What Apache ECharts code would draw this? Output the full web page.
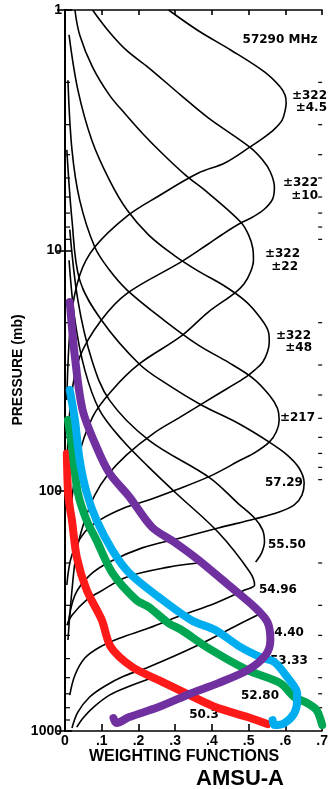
<!DOCTYPE html>
<html><head><meta charset="utf-8">
<script src="https://cdn.jsdelivr.net/npm/echarts@6/dist/echarts.min.js"></script>
<style>html,body{margin:0;padding:0;background:#fff}#c{width:331px;height:789px}</style>
</head><body><div id="c"></div>
<script>
// ---- tick labels ----
const xTickLabels = ['0', '.1', '.2', '.3', '.4', '.5', '.6', '.7'];
const minorTickValues = [2,3,4,5,6,7,8,9,20,30,40,50,60,70,80,90,200,300,400,500,600,700,800,900];

// ---- black weighting functions [weight, pressure mb] ----
const ch14 = [[0.282,1.0],[0.363,1.22],[0.452,1.47],[0.543,1.81],[0.586,2.09],[0.599,2.26],[0.602,2.44],[0.599,2.63],[0.591,2.87],[0.570,3.13],[0.543,3.38],[0.503,3.72],[0.435,4.33],[0.363,4.77],[0.255,5.94],[0.169,7.2],[0.081,9.69],[0.040,12.7],[0.016,19.5],[0.005,42]];
const ch13 = [[0.075,1.0],[0.116,1.21],[0.167,1.47],[0.228,1.74],[0.315,2.26],[0.390,2.81],[0.503,3.72],[0.538,4.21],[0.559,4.72],[0.570,5.45],[0.565,6.12],[0.543,6.73],[0.511,7.27],[0.478,7.70],[0.430,8.55],[0.390,9.41],[0.315,11.2],[0.169,15.1],[0.099,19.5],[0.040,27.8],[0.016,42],[0.005,82]];
const ch12 = [[0.027,1.0],[0.040,1.27],[0.075,1.73],[0.121,2.26],[0.167,2.74],[0.215,3.31],[0.269,4.01],[0.328,4.86],[0.390,5.78],[0.478,7.62],[0.500,8.64],[0.511,9.78],[0.513,10.97],[0.505,12.31],[0.487,13.81],[0.462,15.06],[0.390,18.06],[0.317,22.7],[0.202,29.7],[0.129,38.1],[0.075,49.4],[0.035,74.6],[0.013,133]];
const ch11 = [[0.011,1.27],[0.035,2.15],[0.073,3.48],[0.121,5.10],[0.169,6.80],[0.228,8.64],[0.296,10.46],[0.363,12.2],[0.430,13.94],[0.492,16.3],[0.532,19.13],[0.554,21.9],[0.556,24.07],[0.551,26.5],[0.538,29.2],[0.516,31.5],[0.492,33.7],[0.444,37.4],[0.376,43.2],[0.309,49.9],[0.242,57.6],[0.167,71.1],[0.116,86.1],[0.081,104.3],[0.054,132.6],[0.032,176.7],[0.019,259],[0.008,418]];
const ch10 = [[0.008,1.96],[0.019,3.82],[0.040,6.18],[0.081,9.69],[0.121,12.08],[0.169,14.63],[0.269,19.5],[0.363,24.8],[0.444,29.2],[0.511,34.0],[0.556,40.0],[0.578,45.3],[0.583,50.8],[0.575,57.0],[0.556,62.8],[0.519,69.1],[0.478,74.6],[0.395,87.0],[0.301,99.4],[0.228,109.4],[0.167,117],[0.094,132.6],[0.054,148.7],[0.019,185],[0.005,247]];
const ch9 = [[0.005,3.82],[0.019,7.48],[0.040,13.3],[0.099,19.5],[0.202,29.7],[0.282,36.4],[0.371,44.0],[0.470,52.3],[0.556,62.8],[0.605,71.1],[0.637,80.5],[0.651,93.0],[0.645,104.3],[0.624,114.7],[0.583,122.8],[0.516,131.2],[0.417,143],[0.309,158],[0.210,173],[0.121,198],[0.067,225],[0.027,272],[0.008,363]];
const ch8Upper = [[0.013,8.2],[0.035,16.1],[0.073,28.6],[0.121,42.0],[0.228,61.6],[0.395,88.6],[0.470,112.6],[0.516,130],[0.538,145.9],[0.543,163.7],[0.535,181.8],[0.519,198]];
const ch8Lower = [[0.363,200],[0.282,208],[0.167,229],[0.094,264],[0.059,285],[0.019,330],[0.005,363]];
const ch7 = [[0.011,11.0],[0.027,19.5],[0.054,31.5],[0.094,46.2],[0.156,61.6],[0.228,79.8],[0.301,102],[0.417,149],[0.503,218],[0.516,247],[0.489,259],[0.409,294],[0.317,330],[0.228,373],[0.148,411],[0.094,448],[0.054,497],[0.027,586],[0.013,709]];
const ch6Tail = [[0.530,326],[0.470,362],[0.363,439],[0.228,542],[0.161,591],[0.108,651],[0.067,722],[0.035,835],[0.019,972]];
const ch5Tail = [[0.242,597],[0.175,651],[0.121,709],[0.081,788],[0.051,876],[0.032,963]];

// ---- coloured weighting functions ----
const redLine = [[0.005,70],[0.008,100],[0.013,117],[0.019,133],[0.032,189],[0.059,259],[0.100,345],[0.125,448],[0.183,542],[0.255,614],[0.328,696],[0.409,795],[0.497,875],[0.551,936]];
const greenLine = [[0.008,50.8],[0.019,65.9],[0.035,102],[0.059,133],[0.086,161],[0.129,220],[0.194,285],[0.228,305],[0.282,356],[0.317,380],[0.390,452],[0.497,558],[0.586,632],[0.624,722],[0.659,765],[0.685,819],[0.700,945]];
const blueLine = [[0.013,38.1],[0.027,50.8],[0.040,74.6],[0.059,102],[0.086,133],[0.129,177],[0.175,220],[0.255,277],[0.344,346],[0.409,380],[0.478,448],[0.532,493],[0.570,517],[0.605,597],[0.632,696],[0.632,744],[0.624,843],[0.597,927],[0.570,945],[0.565,901]];
const purpleLine = [[0.013,16.4],[0.027,27.8],[0.048,46.2],[0.086,65.9],[0.121,84.5],[0.175,106],[0.237,142],[0.301,165],[0.363,194],[0.452,252],[0.516,305],[0.551,352],[0.559,418],[0.546,483],[0.497,558],[0.417,632],[0.344,696],[0.255,795],[0.175,875],[0.140,927],[0.132,884]];

// ---- texts ----
const channelLabels = ['57290 MHz','±322','±4.5','±322','±10','±322','±22','±322','±48','±217','57.29','55.50','54.96','54.40','53.33','52.80','50.3'];
const yAxisTitle = 'PRESSURE (mb)';
const xAxisTitle = 'WEIGHTING FUNCTIONS';
const chartTitle = 'AMSU-A';

// layout of the channel labels (pixel anchor, alignment)
const labelLayout = [
  [280,40,'center'],[327,96,'right'],[327,108,'right'],[318,183,'right'],[318,196,'right'],
  [300,254,'right'],[298,267,'right'],[311,336,'right'],[312,348,'right'],[315,418,'right'],
  [265,483,'left'],[268,545,'left'],[259,590,'left'],[266,633,'left'],[270,661,'left'],
  [260,696,'center'],[204,715,'center']
];

const chart = echarts.init(document.getElementById('c'), null, {renderer:'canvas'});
const blackData = [ch14, ch13, ch12, ch11, ch10, ch9, ch8Upper, ch8Lower, ch7, ch6Tail, ch5Tail];
const series = [];
blackData.forEach(d => series.push({
  type:'line', data:d, smooth:0.35, showSymbol:false, silent:true, z:2,
  lineStyle:{color:'#000', width:1.6}
}));
[[redLine,'#ff1a1a'],[greenLine,'#00a651'],[blueLine,'#00aeef'],[purpleLine,'#7030a0']].forEach(([d,c]) => series.push({
  type:'line', data:d, smooth:0.3, showSymbol:false, silent:true, z:4, clip:false,
  lineStyle:{color:c, width:8, cap:'round', join:'round'}
}));
series.push({
  type:'custom', silent:true, z:3,
  data: minorTickValues.map(v => [0, v]),
  renderItem: (params, api) => {
    const pt = api.coord([0, api.value(1)]);
    const cs = params.coordSys;
    return {type:'group', children:[
      {type:'line', shape:{x1:cs.x, y1:pt[1], x2:cs.x+5, y2:pt[1]}, style:{stroke:'#000', lineWidth:1.2}},
      {type:'line', shape:{x1:cs.x+cs.width, y1:pt[1], x2:cs.x+cs.width-4, y2:pt[1]}, style:{stroke:'#000', lineWidth:1.2}}
    ]};
  }
});

const lineStyle = {color:'#000', width:1.6};
const graphics = channelLabels.map((t,i) => ({
  type:'text', z:1, silent:true,
  style:{text:t, x:labelLayout[i][0], y:labelLayout[i][1], textAlign:labelLayout[i][2], textVerticalAlign:'middle',
    font:'bold 12px "DejaVu Sans"', fill:'#000'}
}));
graphics.push({type:'text', z:1, silent:true, rotation:Math.PI/2, x:18, y:370,
  style:{text:yAxisTitle, x:0, y:0, textAlign:'center', textVerticalAlign:'middle', font:'bold 14px "Liberation Sans"', fill:'#000'}});
graphics.push({type:'text', z:1, silent:true,
  style:{text:xAxisTitle, x:184, y:757, textAlign:'center', textVerticalAlign:'middle', font:'bold 16px "Liberation Sans"', fill:'#000'}});
graphics.push({type:'text', z:1, silent:true,
  style:{text:chartTitle, x:240, y:779, textAlign:'center', textVerticalAlign:'middle', font:'bold 22px "Liberation Sans"', fill:'#000'}});

chart.setOption({
  animation:false,
  backgroundColor:'#fff',
  grid:{left:65, right:5, top:10, bottom:58},
  xAxis:[
    {type:'value', min:0, max:0.7, interval:0.1, position:'bottom',
      axisLine:{lineStyle}, axisTick:{inside:true, length:7, lineStyle},
      axisLabel:{formatter:v => xTickLabels[Math.round(v*10)], color:'#000', fontSize:14, fontWeight:'bold', fontFamily:'Liberation Sans', margin:3},
      splitLine:{show:false}},
    {type:'value', min:0, max:0.7, interval:0.1, position:'top',
      axisLine:{lineStyle}, axisTick:{inside:true, length:5, lineStyle},
      axisLabel:{show:false}, splitLine:{show:false}}
  ],
  yAxis:[
    {type:'log', logBase:10, min:1, max:1000, inverse:true, position:'left',
      axisLine:{lineStyle:{color:'#000', width:2}}, axisTick:{inside:true, length:7, lineStyle},
      axisLabel:{formatter:v => String(Math.round(v)), color:'#000', fontSize:14, fontWeight:'bold', fontFamily:'Liberation Sans', margin:3},
      splitLine:{show:false}, minorTick:{show:false}},
    {type:'log', logBase:10, min:1, max:1000, inverse:true, position:'right',
      axisLine:{lineStyle}, axisTick:{inside:true, length:8, lineStyle},
      axisLabel:{show:false}, splitLine:{show:false}}
  ],
  graphic:graphics,
  series:series
});
</script></body></html>
